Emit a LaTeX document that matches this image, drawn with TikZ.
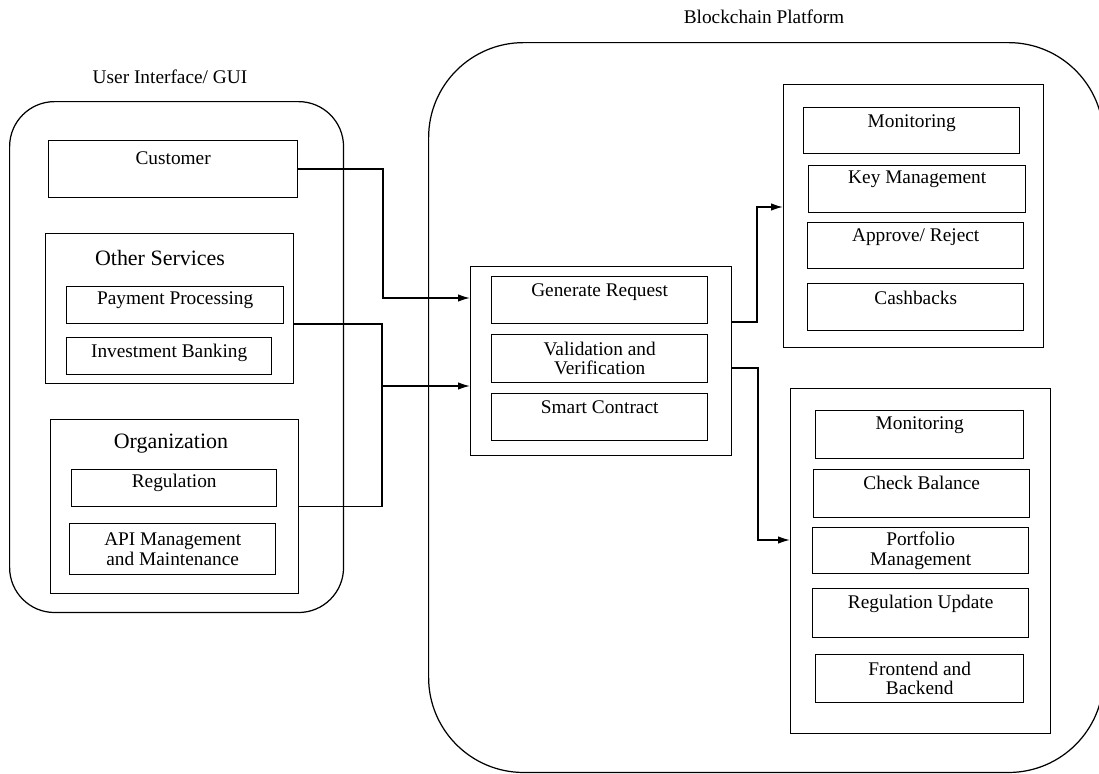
\documentclass[tikz,border=0pt]{standalone}
\usepackage{fontspec}
\setmainfont{Liberation Serif}
\usepackage{tikz}
\usetikzlibrary{arrows.meta}

\begin{document}
\begin{tikzpicture}[x=0.02cm,y=-0.02cm,line width=0.8pt,
	itembox/.style={draw,anchor=north west,inner sep=0pt,align=center,font=\fontsize{11}{11}\selectfont},
	groupbox/.style={draw,anchor=north west,inner sep=0pt},
	roundbox/.style={draw,anchor=north west,inner sep=0pt,line width=0.7pt},
	title/.style={font=\fontsize{11}{11}\selectfont},
	head/.style={font=\fontsize{12.5}{12.5}\selectfont},
	arr/.style={-{Latex[length=2.4mm,width=1.5mm]}}]
\useasboundingbox (0,0) rectangle (1099,774);

%User Interface / GUI
\node[title] (uilab) at (170,77) {User Interface/ GUI};
\node[roundbox,rounded corners=0.9cm,minimum width=6.68cm,minimum height=10.22cm] (ui) at (9,101) {};
\node[itembox,minimum width=4.98cm,text height=0.48cm,text depth=0.66cm] (cust) at (48,140) {Customer};
	%autres services
	\node[groupbox,minimum width=4.96cm,minimum height=3.00cm] (oth) at (45,233) {};
	\node[head] (othlab) at (160,258) {Other Services};
	\node[itembox,minimum width=4.34cm,text height=0.36cm,text depth=0.38cm] (pay) at (66,286) {Payment Processing};
	\node[itembox,minimum width=4.10cm,text height=0.40cm,text depth=0.34cm] (inv) at (66,337) {Investment Banking};
	%organisation
	\node[groupbox,minimum width=4.96cm,minimum height=3.48cm] (org) at (50,419) {};
	\node[head] (orglab) at (171,444) {Organization};
	\node[itembox,minimum width=4.10cm,text height=0.36cm,text depth=0.38cm] (reg) at (71,469) {Regulation};
	\node[itembox,minimum width=4.12cm,minimum height=1.02cm] (api) at (69,523) {API Management\\and Maintenance};

%Blockchain platform
\node[title] (bclab) at (764,17) {Blockchain Platform};
\node[roundbox,rounded corners=1.9cm,minimum width=13.5cm,minimum height=14.6cm] (bc) at (428,42) {};
	%requete
	\node[groupbox,minimum width=5.22cm,minimum height=3.78cm] (hub) at (470,266) {};
	\node[itembox,minimum width=4.32cm,text height=0.40cm,text depth=0.54cm] (gen) at (491,276) {Generate Request};
	\node[itembox,minimum width=4.32cm,minimum height=0.96cm] (val) at (491,334) {Validation and\\Verification};
	\node[itembox,minimum width=4.32cm,text height=0.40cm,text depth=0.54cm] (sc) at (491,393) {Smart Contract};
	%bloc du haut
	\node[groupbox,minimum width=5.20cm,minimum height=5.26cm] (top) at (783,84) {};
	\node[itembox,minimum width=4.32cm,text height=0.40cm,text depth=0.52cm] (mon1) at (803,107) {Monitoring};
	\node[itembox,minimum width=4.34cm,text height=0.36cm,text depth=0.58cm] (key) at (808,165) {Key Management};
	\node[itembox,minimum width=4.32cm,text height=0.38cm,text depth=0.54cm] (appr) at (807,222) {Approve/ Reject};
	\node[itembox,minimum width=4.32cm,text height=0.42cm,text depth=0.52cm] (cash) at (807,283) {Cashbacks};
	%bloc du bas
	\node[groupbox,minimum width=5.20cm,minimum height=6.90cm] (bot) at (790,388) {};
	\node[itembox,minimum width=4.16cm,text height=0.38cm,text depth=0.58cm] (mon2) at (815,410) {Monitoring};
	\node[itembox,minimum width=4.32cm,text height=0.40cm,text depth=0.56cm] (chk) at (813,469) {Check Balance};
	\node[itembox,minimum width=4.32cm,minimum height=0.92cm] (port) at (812,527) {Portfolio\\Management};
	\node[itembox,minimum width=4.32cm,text height=0.40cm,text depth=0.58cm] (regup) at (812,588) {Regulation Update};
	\node[itembox,minimum width=4.16cm,minimum height=0.96cm] (fb) at (815,654) {Frontend and\\Backend};

%liaisons
\coordinate (j1) at (383,298);
\coordinate (j2) at (382,324);
\coordinate (j4) at (382,386);
\coordinate (j5) at (757,322);
\coordinate (j6) at (757,207);
\coordinate (j7) at (758,368);
\coordinate (j8) at (758,540);
\draw[arr] (cust.east) -| (j1) -- (j1 -| hub.west);
\draw (j2 -| oth.east) -- (j2) -- (j2 |- org.east) -- (org.east);
\draw[arr] (j4) -- (j4 -| hub.west);
\draw[arr] (j5 -| hub.east) -- (j5) -- (j6) -- (j6 -| top.west);
\draw[arr] (j7 -| hub.east) -- (j7) -- (j8) -- (j8 -| bot.west);
\end{tikzpicture}
\end{document}
